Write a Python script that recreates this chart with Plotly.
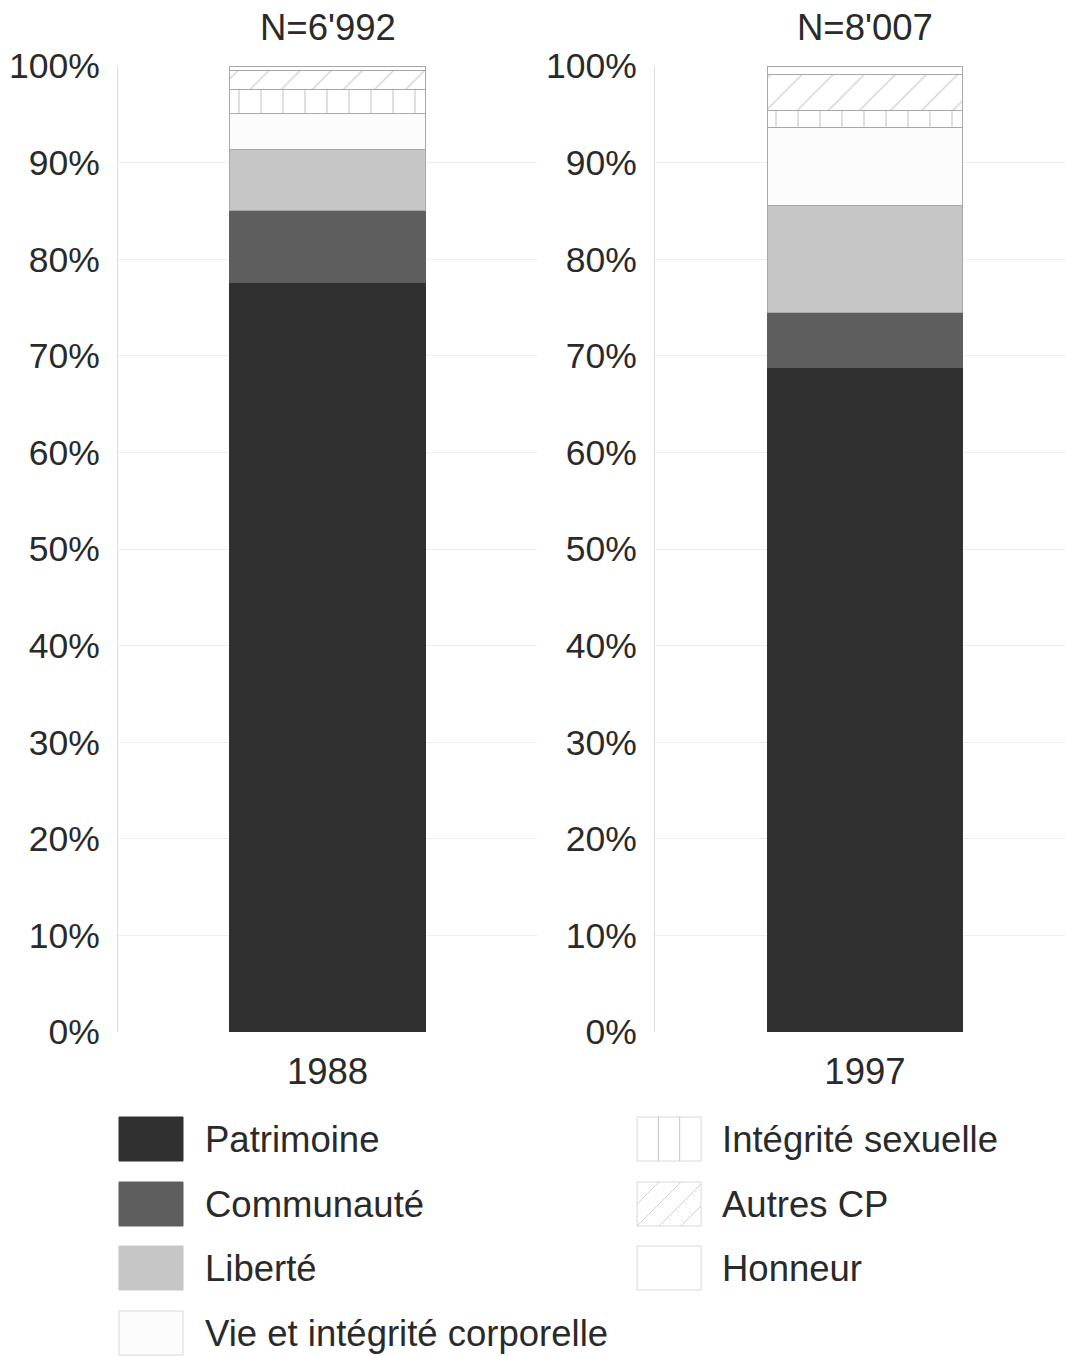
import plotly.graph_objects as go

# ---------------- data ----------------
years = ["1988", "1997"]
n_labels = ["N=6'992", "N=8'007"]
categories = ["Patrimoine", "Communauté", "Liberté", "Vie et intégrité corporelle",
              "Intégrité sexuelle", "Autres CP", "Honneur"]
values_1988 = [77.6, 7.4, 6.4, 3.7, 2.5, 1.9, 0.5]
values_1997 = [68.8, 5.7, 11.1, 8.0, 1.8, 3.7, 0.9]
y_ticks = [0, 10, 20, 30, 40, 50, 60, 70, 80, 90, 100]
y_tick_labels = [f"{t}%" for t in y_ticks]

# ---------------- styles ----------------
W, H = 1065, 1356
FONT = "Liberation Sans, Arial, sans-serif"
TXT = "#2a2a2a"
FS = 35.5
FS_BIG = 36.5
fills = ["#303030", "#5e5e5e", "#c6c6c6", "#fcfcfc", "#ffffff", "#ffffff", "#ffffff"]
patterns = ["", "", "", "", "|", "/", ""]
outline = "#a8a8a8"

def px_x(p):
    return p / W

def px_y(p):
    return 1 - p / H

x_domains = [[px_x(118), px_x(537)], [px_x(655), 1.0]]
x_ranges = [[-0.5, 0.5], [-0.512, 0.488]]
bar_widths = [0.468, 0.476]
y_domain = [px_y(1032), px_y(66)]

fig = go.Figure()
series = [values_1988, values_1997]
for i, vals in enumerate(series):
    xa = "x" if i == 0 else "x2"
    ya = "y" if i == 0 else "y2"
    for c, name in enumerate(categories):
        fig.add_trace(go.Bar(
            x=[0], y=[vals[c]], name=name, width=bar_widths[i],
            xaxis=xa, yaxis=ya, showlegend=False,
            marker=dict(
                color=fills[c],
                line=dict(color=outline if c >= 2 else fills[c], width=1),
                pattern=dict(shape=patterns[c], fgcolor="#a0a0a0", bgcolor=fills[c],
                             size=22, solidity=0.06),
            ),
        ))

axis_common_x = dict(showgrid=False, zeroline=False, showline=False, ticks="",
                     tickvals=[0], tickfont=dict(size=FS_BIG, color=TXT, family=FONT),
                     ticklabelstandoff=14, fixedrange=True, automargin=False)
axis_common_y = dict(range=[0, 100], tickvals=y_ticks, ticktext=y_tick_labels,
                     showgrid=True, gridcolor="#eeeeee", gridwidth=1, zeroline=False,
                     showline=True, linecolor="#dddddd", linewidth=1, ticks="",
                     ticklabelstandoff=10, tickfont=dict(size=FS, color=TXT, family=FONT),
                     domain=y_domain, fixedrange=True, automargin=False)

fig.update_layout(
    xaxis=dict(domain=x_domains[0], range=x_ranges[0], ticktext=[years[0]], anchor="y", **axis_common_x),
    xaxis2=dict(domain=x_domains[1], range=x_ranges[1], ticktext=[years[1]], anchor="y2", **axis_common_x),
    yaxis=dict(anchor="x", **axis_common_y),
    yaxis2=dict(anchor="x2", **axis_common_y),
    barmode="stack",
    width=W, height=H,
    margin=dict(l=0, r=0, t=0, b=0, pad=0),
    paper_bgcolor="white", plot_bgcolor="white",
    font=dict(family=FONT, color=TXT, size=FS),
    showlegend=False,
)

# N labels above bars
for i, lab in enumerate(n_labels):
    fig.add_annotation(text=lab, x=0, xref="x" if i == 0 else "x2",
                       y=px_y(28), yref="paper", showarrow=False,
                       xanchor="center", yanchor="middle",
                       font=dict(size=FS_BIG, color=TXT, family=FONT))

# ---------------- manual legend ----------------
row_y = [1139, 1204, 1268, 1333]
cols = [(119, 183, 203), (637, 701, 720)]
sw_h = 44
shapes = []
for k, name in enumerate(categories):
    col = 0 if k < 4 else 1
    row = k if k < 4 else k - 4
    x0, x1, xt = cols[col]
    yc = row_y[row]
    y0, y1 = yc - sw_h / 2, yc + sw_h / 2
    lc = fills[k] if k < 3 else "#d8d8d8"
    shapes.append(dict(type="rect", xref="paper", yref="paper",
                       x0=px_x(x0), x1=px_x(x1), y0=px_y(y1), y1=px_y(y0),
                       fillcolor=fills[k], line=dict(color=lc, width=1)))
    if patterns[k] == "|":
        step = (x1 - x0) / 3
        for j in range(1, 3):
            xx = x0 + j * step
            shapes.append(dict(type="line", xref="paper", yref="paper",
                               x0=px_x(xx), x1=px_x(xx), y0=px_y(y1), y1=px_y(y0),
                               line=dict(color="#c4c4c4", width=1)))
    elif patterns[k] == "/":
        step = 22
        s = x0 - sw_h
        while s < x1:
            ax0, ay0 = s, y1
            ax1, ay1 = s + sw_h, y0
            if ax0 < x0:
                ay0 = y1 - (x0 - ax0)
                ax0 = x0
            if ax1 > x1:
                ay1 = y0 + (ax1 - x1)
                ax1 = x1
            if ax1 > ax0:
                shapes.append(dict(type="line", xref="paper", yref="paper",
                                   x0=px_x(ax0), x1=px_x(ax1), y0=px_y(ay0), y1=px_y(ay1),
                                   line=dict(color="#d0d0d0", width=1)))
            s += step
    fig.add_annotation(text=name, x=px_x(xt), y=px_y(yc), xref="paper", yref="paper",
                       xanchor="left", yanchor="middle", showarrow=False,
                       font=dict(size=FS_BIG, color=TXT, family=FONT))

fig.update_layout(shapes=shapes)
fig.write_html("out.html", post_script="document.body.style.margin='0';",
               config={"displayModeBar": False})
